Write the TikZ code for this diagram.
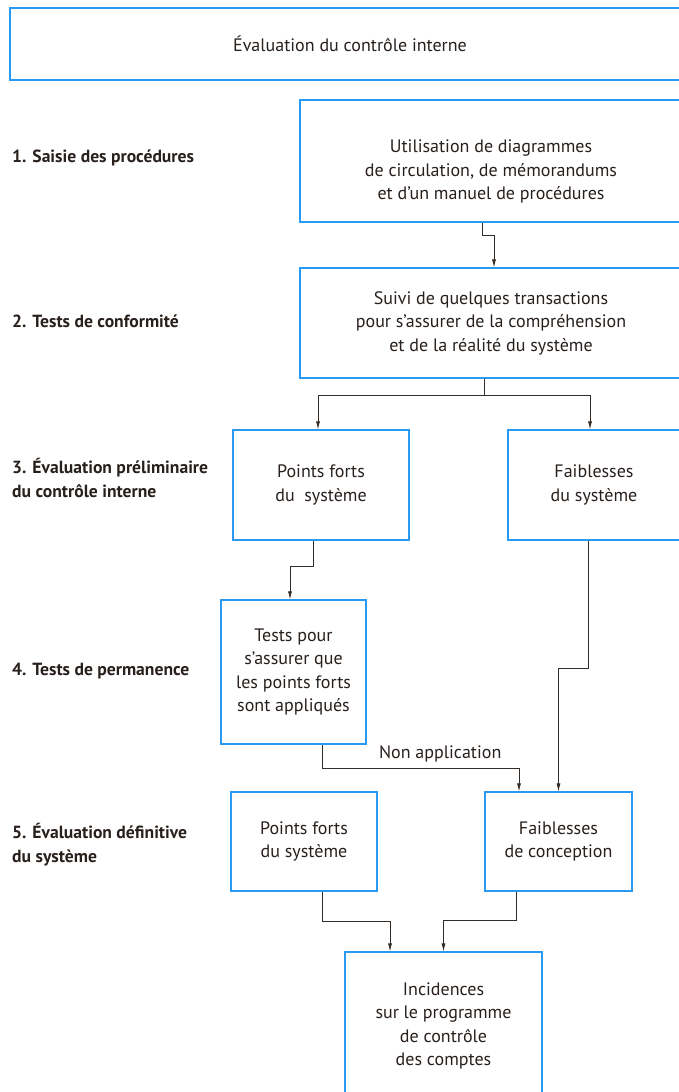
\documentclass[tikz,border=0pt]{standalone}
\usepackage{fontspec}
\setmainfont{PT Sans}
\usetikzlibrary{arrows.meta}
\usetikzlibrary{calc}
\definecolor{boxblue}{RGB}{42,154,240}
\definecolor{ink}{RGB}{52,44,38}
\definecolor{txt}{RGB}{40,32,28}

\begin{document}
\begin{tikzpicture}[x=1pt, y=-1pt, >={Latex[length=8pt,width=4pt]},
box/.style={draw=boxblue, line width=1.1pt, rectangle, inner sep=0, align=center, text=txt, font=\fontsize{18}{23.5}\selectfont},
link/.style={->, ink, line width=.8pt},
phase/.style={anchor=west, inner sep=0, align=left, text=txt, font=\fontsize{17.6}{24}\selectfont\bfseries}]
\useasboundingbox (0,0) rectangle (678,1092);
%%%%%%%%%%%%%%%%%%%%%%% TITLE %%%%%%%%%%%%%%%%%%%%%%%%%%%
\node[box, minimum width=680pt, minimum height=72pt] (titre) at (350,44) {Évaluation du contrôle interne};
%%%%%%%%%%%%%%%%%%%%%%% PHASES %%%%%%%%%%%%%%%%%%%%%%%%%%%
\node[phase] (ph1) at (12,158) {1. Saisie des procédures};
\node[phase] (ph2) at (12,321) {2. Tests de conformité};
\node[phase] (ph3) at (12,478) {3. Évaluation préliminaire\\du contrôle interne};
\node[phase] (ph4) at (12,671) {4. Tests de permanence};
\node[phase] (ph5) at (12,845) {5. Évaluation définitive\\du système};
%%%%%%%%%%%%%%%%%%%%%%% BOXES %%%%%%%%%%%%%%%%%%%%%%%%%%%
\node[box, minimum width=382pt, minimum height=122pt] (proc) at (491,161) {\rule{0pt}{34pt}Utilisation de diagrammes\\de circulation, de mémorandums\\et d’un manuel de procédures};
\node[box, minimum width=382pt, minimum height=110pt] (conf) at (491,323) {Suivi de quelques transactions\\pour s’assurer de la compréhension\\et de la réalité du système};
\node[box, minimum width=176pt, minimum height=110pt] (fortsA) at (321,485) {Points forts\\du~~système};
\node[box, minimum width=172pt, minimum height=110pt] (faibA) at (594,485) {Faiblesses\\du système};
\node[box, minimum width=145pt, minimum height=144pt] (tests) at (293.5,672) {Tests pour\\s’assurer que\\les points forts\\sont appliqués};
\node[box, minimum width=146pt, minimum height=99pt] (fortsB) at (304,841.5) {Points forts\\du système};
\node[box, minimum width=147pt, minimum height=99pt] (faibB) at (558.5,841.5) {Faiblesses\\de conception};
\node[box, minimum width=197pt, minimum height=148pt] (incid) at (443.5,1026) {Incidences\\sur le programme\\de contrôle\\des comptes};
%%%%%%%%%%%%%%%%%%%%%%% CONNECTORS %%%%%%%%%%%%%%%%%%%%%%%%%%%
\draw[link] ([xshift=-9pt]proc.south) -- ++(0,13) -| ([xshift=3pt]conf.north);
\draw[link] ([xshift=-7pt]conf.south) -- ++(0,17) coordinate (split) -| ([xshift=-3pt]fortsA.north);
\draw[link] (split) -| ([xshift=-4pt]faibA.north);
\draw[link] ([xshift=-8pt]fortsA.south) -- ++(0,26) -| ([xshift=-3.5pt]tests.north);
\draw[link] ([xshift=-6pt]faibA.south) -- ++(0,128) -| (faibB.north);
\draw[link] ([xshift=28.5pt]tests.south) -- ++(0,24) -| ([xshift=-39.5pt]faibB.north) node[pos=.3, above=3pt, text=txt, font=\fontsize{18}{23.5}\selectfont] (nonapp) {Non application};
\draw[link] ([xshift=18pt]fortsB.south) -- ++(0,30) -| ([xshift=-53.5pt]incid.north);
\draw[link] ([xshift=-42.5pt]faibB.south) -- ++(0,29) -| (incid.north);
\end{tikzpicture}
\end{document}
